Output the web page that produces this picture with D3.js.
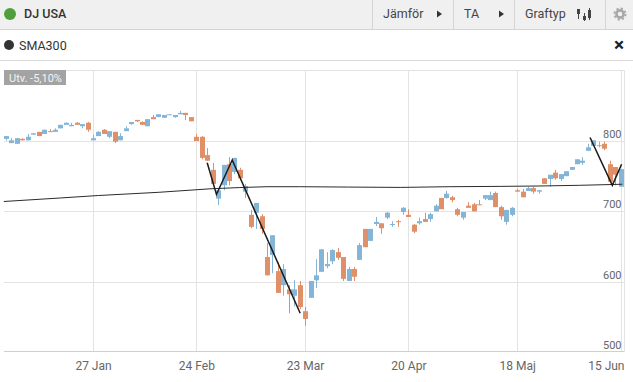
<!DOCTYPE html>
<html lang="en">
	<head>
		<meta charset="utf-8">
		<title>DJ USA</title>
		<script src="https://d3js.org/d3.v7.min.js"></script>
		<style type="text/css">
			html, body { margin: 0; padding: 0; background: #fff; overflow: hidden; }
			text { font-family: Roboto, sans-serif; }
		</style>
	</head>
	<body>
		<script type="text/javascript">
// candle values, one per trading day
var opens = [803,797,796,803,801,809,813,810,814,813,818,823,821,826,821,826,801,807,816,806,813,801,814,824,830,827,821,834,834,833,837,834,838,840,834,
	806,806,780,759,718,737,767,756,759,728,695,698,693,635,638,615,595,589,580,595,558,577,602,614,622,629,642,635,601,618,631,675,658,682,683,691,681,686,699,
	695,681,683,689,689,700,719,719,720,703,691,708,710,710,718,716,726,706,685,695,730,728,729,733,728,747,746,755,746,750,759,767,769,786,793,793,796,767,763,735];
var highs = [807,804,804,804,810,811,813,816,817,818,823,826,826,827,824,827,809,814,817,814,813,811,821,827,830,828,831,837,838,837,838,837,843,840,834,
	810,807,790,769,730,766,777,776,762,739,702,712,696,655,666,628,625,595,602,601,564,601,632,646,642,646,648,635,621,621,655,675,675,692,683,699,686,688,706,
	703,682,691,698,698,710,719,729,722,705,699,713,712,716,723,728,728,708,702,706,732,732,735,735,730,747,752,759,753,757,763,774,777,796,801,799,799,772,763,760];
var lows = [801,797,796,801,801,809,807,810,813,813,818,823,821,823,818,813,801,807,810,804,797,801,814,823,827,823,821,831,834,833,837,833,838,830,828,
	800,774,772,739,709,730,737,753,745,719,676,675,668,609,612,584,580,555,565,561,537,577,591,614,619,625,631,601,601,601,631,649,658,679,668,689,678,678,695,
	692,669,681,685,685,700,703,718,713,693,688,705,700,709,716,716,706,688,681,693,728,720,729,725,725,739,735,745,743,750,759,767,766,786,793,791,787,742,737,735];
var closes = [807,801,804,801,806,811,807,816,813,816,823,826,823,823,824,816,804,813,810,814,799,807,818,827,828,823,831,831,838,837,838,837,840,837,828,
	800,776,772,739,730,766,743,776,747,736,678,712,675,609,666,584,618,582,589,564,547,601,609,646,625,645,634,604,618,607,652,649,675,685,676,698,682,685,705,
	692,671,686,685,696,708,703,725,716,695,699,705,700,709,723,723,706,693,702,705,728,720,733,728,730,739,752,747,753,757,763,774,772,791,801,794,789,742,752,760];

// x axis ticks, given as candle number
var tickIdx = [16, 35, 55, 74, 94, 113];
var tickLabels = ["27 Jan", "24 Feb", "23 Mar", "20 Apr", "18 Maj", "15 Jun"];
var yTicks = [500, 600, 700, 800];

// SMA300 line
var smaIdx = [-0.4, 10, 17, 28, 37.5, 43, 48, 54, 63, 72.5, 81.5, 91, 98, 105.5, 113.3];
var smaVals = [714, 719, 722.5, 727, 732, 733.8, 735, 735, 734.5, 734, 735, 735.5, 736, 737, 738.5];

// the drawn zigzag
var zig1Idx = [37, 38.7, 41.6, 54.1];
var zig1Vals = [769, 724, 773, 555];
var zig2Idx = [107.4, 111.5, 113.2];
var zig2Vals = [805, 737, 767];

var blue = "#84b5d6", orange = "#e09068", grid = "#e3e3e3";
var w = 633, h = 382;
var left = 4, right = 624, top_ = 70, bottom = 352;

var svg = d3.select("body").append("svg")
	.attr("width", w)
	.attr("height", h)
	.style("display", "block");

var xscale = d3.scaleLinear().domain([0, 113]).range([6, 620.5]);
var yscale = d3.scaleLinear().domain([500, 800]).range([bottom, 141]);

//toolbar
svg.append("rect").attr("width", w).attr("height", 29).attr("fill", "#f0f0f0");
svg.append("line").attr("x1", 0).attr("x2", w).attr("y1", 29.5).attr("y2", 29.5).attr("stroke", "#d4d4d4");
svg.append("line").attr("x1", 0).attr("x2", w).attr("y1", 60.5).attr("y2", 60.5).attr("stroke", "#d9d9d9");

[372, 453, 514, 605].forEach(function(x){
	svg.append("line").attr("x1", x + 0.5).attr("x2", x + 0.5).attr("y1", 0).attr("y2", 29).attr("stroke", "#d4d4d4");
});

svg.append("circle").attr("cx", 10).attr("cy", 14).attr("r", 6).attr("fill", "#519f3c");
svg.append("text").attr("x", 24).attr("y", 18).text("DJ USA")
	.style("font-size", "12.5px").style("font-weight", 500).attr("fill", "#333");

[["Jämför", 383], ["TA", 464], ["Graftyp", 525]].forEach(function(d){
	svg.append("text").attr("x", d[1]).attr("y", 18).text(d[0])
		.style("font-size", "12.5px").attr("fill", "#444");
});

[437, 499].forEach(function(x){
	svg.append("path").attr("d", "M" + x + ",10.5L" + (x + 5) + ",14L" + x + ",17.5Z").attr("fill", "#333");
});

// small candlestick icon
[[578, 9, 19, 9, 14], [584, 13, 21, 16, 20], [589, 8, 20, 10, 18]].forEach(function(d){
	svg.append("line").attr("x1", d[0] + 0.5).attr("x2", d[0] + 0.5).attr("y1", d[1]).attr("y2", d[2]).attr("stroke", "#444");
	svg.append("rect").attr("x", d[0] - 1).attr("y", d[3]).attr("width", 3).attr("height", d[4] - d[3]).attr("fill", "#444");
});

// gear
svg.append("circle").attr("cx", 620).attr("cy", 14).attr("r", 3.6).attr("fill", "none").attr("stroke", "#a8a8a8").attr("stroke-width", 2.6);
svg.append("circle").attr("cx", 620).attr("cy", 14).attr("r", 5.6).attr("fill", "none").attr("stroke", "#a8a8a8").attr("stroke-width", 1.8)
	.attr("stroke-dasharray", "2.2 2.2");

//indicator row
svg.append("circle").attr("cx", 9).attr("cy", 45).attr("r", 5).attr("fill", "#333");
svg.append("text").attr("x", 19).attr("y", 49.5).text("SMA300")
	.style("font-size", "12.5px").attr("fill", "#333");
svg.append("text").attr("x", 619).attr("y", 50.5).attr("text-anchor", "middle").text("×")
	.style("font-size", "19px").style("font-weight", 700).attr("fill", "#222");

//grid
svg.append("line").attr("x1", left).attr("x2", right).attr("y1", top_ + 0.5).attr("y2", top_ + 0.5).attr("stroke", grid);
svg.append("line").attr("x1", right + 0.5).attr("x2", right + 0.5).attr("y1", top_).attr("y2", bottom).attr("stroke", grid);

svg.selectAll(".vgrid").data(tickIdx).enter().append("line")
	.attr("class", "vgrid")
	.attr("x1", function(d){ return Math.round(xscale(d)) + 0.5; })
	.attr("x2", function(d){ return Math.round(xscale(d)) + 0.5; })
	.attr("y1", top_)
	.attr("y2", bottom)
	.attr("stroke", grid);

svg.selectAll(".hgrid").data(yTicks.slice(1)).enter().append("line")
	.attr("class", "hgrid")
	.attr("x1", left)
	.attr("x2", right)
	.attr("y1", function(d){ return Math.round(yscale(d)) + 0.5; })
	.attr("y2", function(d){ return Math.round(yscale(d)) + 0.5; })
	.attr("stroke", grid);

//axes
var xaxis = svg.append("g")
	.attr("transform", "translate(0," + (bottom - 0.5) + ")")
	.call(d3.axisBottom(xscale).tickValues(tickIdx).tickSize(0).tickPadding(10).tickFormat(function(d, i){ return tickLabels[i]; }));
xaxis.select(".domain").remove();
xaxis.selectAll("text").style("font-size", "12px").style("font-family", "Roboto, sans-serif").attr("fill", "#666");
// last label is pulled in so it ends at the plot edge
xaxis.selectAll("text").filter(function(d){ return d == 113; }).attr("text-anchor", "end").attr("dx", 3.5);

svg.append("line").attr("x1", left).attr("x2", right).attr("y1", bottom - 0.5).attr("y2", bottom - 0.5).attr("stroke", "#c6d0e2");

var yaxis = svg.append("g")
	.attr("transform", "translate(621.5,-7)")
	.call(d3.axisLeft(yscale).tickValues(yTicks).tickSize(0).tickPadding(0));
yaxis.select(".domain").remove();
yaxis.selectAll("text").style("font-size", "11px").style("font-family", "Roboto, sans-serif").attr("fill", "#666");

//badge
svg.append("rect").attr("x", 4).attr("y", 70).attr("width", 62).attr("height", 15).attr("fill", "#a3a3a3");
svg.append("text").attr("x", 9).attr("y", 81.5).text("Utv. -5,10%")
	.style("font-size", "11px").attr("fill", "#f4f4f4");

//candles
var candles = svg.selectAll(".candle").data(d3.range(opens.length)).enter().append("g").attr("class", "candle");

candles.append("line")
	.attr("x1", function(i){ return Math.round(xscale(i)) + 0.5; })
	.attr("x2", function(i){ return Math.round(xscale(i)) + 0.5; })
	.attr("y1", function(i){ return yscale(highs[i]); })
	.attr("y2", function(i){ return yscale(lows[i]); })
	.attr("stroke", function(i){ return closes[i] >= opens[i] ? blue : orange; });

candles.append("rect")
	.attr("x", function(i){ return Math.round(xscale(i)) - 2; })
	.attr("width", 5)
	.attr("y", function(i){ return yscale(Math.max(opens[i], closes[i])); })
	.attr("height", function(i){ return Math.max(1, Math.abs(yscale(opens[i]) - yscale(closes[i]))); })
	.attr("fill", function(i){ return closes[i] >= opens[i] ? blue : orange; });

//lines
function drawLine(idx, vals, width, color){
	var line = d3.line()
		.x(function(d){ return xscale(d); })
		.y(function(d, i){ return yscale(vals[i]); });
	svg.append("path")
		.attr("d", line(idx))
		.attr("fill", "none")
		.attr("stroke", color)
		.attr("stroke-width", width);
}

drawLine(smaIdx, smaVals, 1, "#2b2b2b");
drawLine(zig1Idx, zig1Vals, 1.5, "#1a1a1a");
drawLine(zig2Idx, zig2Vals, 1.5, "#1a1a1a");
		</script>
	</body>
</html>
